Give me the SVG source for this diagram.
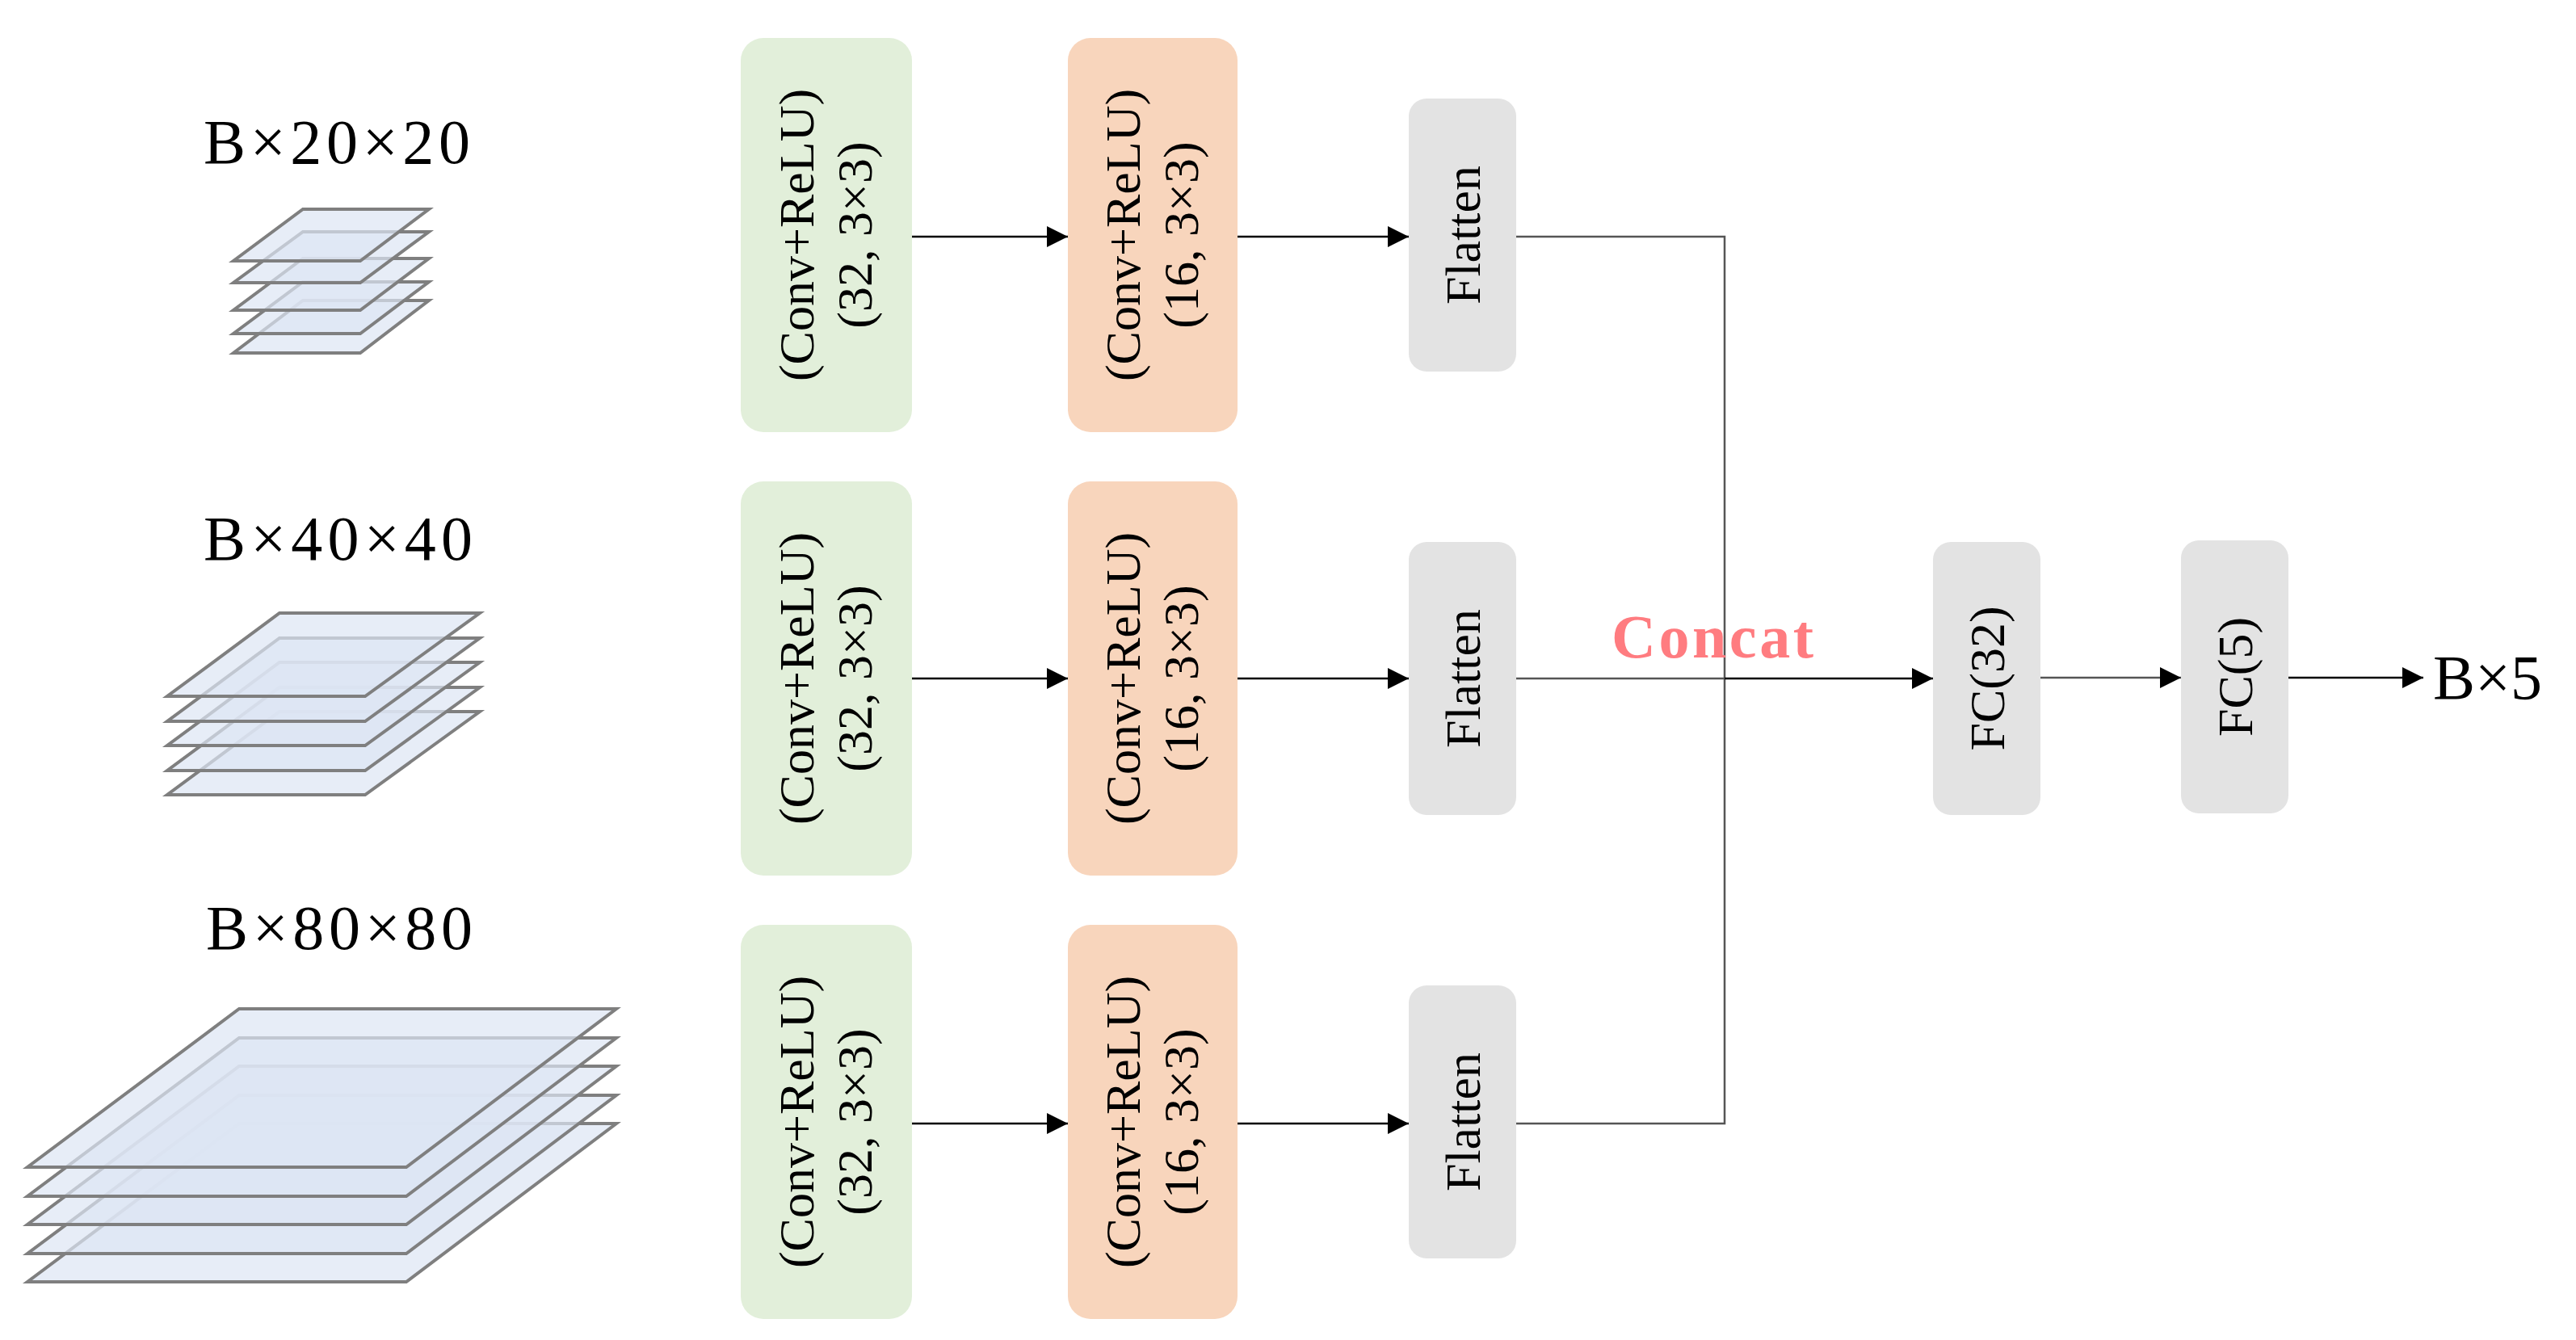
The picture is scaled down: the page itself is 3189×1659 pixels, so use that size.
<svg xmlns="http://www.w3.org/2000/svg" width="3189" height="1659" viewBox="0 0 3189 1659">
<style>
.t{font-family:"Liberation Serif","Times New Roman",serif;fill:#000}
.lbl{font-size:78px}
.bx{font-size:62px;text-anchor:middle}
.g{fill:#e2efda}.o{fill:#f8d5bc}.gr{fill:#e3e3e3}
.pl{fill:#dde5f3;fill-opacity:0.7;stroke:#7f7f7f;stroke-width:4;stroke-linejoin:miter}
.c{fill:none;stroke:#000;stroke-width:2.5}
.c2{fill:none;stroke:#555;stroke-width:2.5}
</style>
<defs>
<marker id="ah" viewBox="0 0 10 10" refX="10" refY="5" markerWidth="10" markerHeight="10" markerUnits="userSpaceOnUse" orient="auto"><path d="M0,0L10,5L0,10z" fill="#000"/></marker>
<marker id="ahb" viewBox="0 0 10 10" refX="10" refY="5" markerWidth="26" markerHeight="26" markerUnits="userSpaceOnUse" orient="auto"><path d="M0,0L10,5L0,10z" fill="#000"/></marker>
</defs>

<g id="input1">
<text class="t lbl" x="252" y="202" textLength="330">B×20×20</text>
<polygon class="pl" points="375,372 531,372 446,437 289,437"/>
<polygon class="pl" points="375,349 531,349 446,413 289,413"/>
<polygon class="pl" points="375,320 531,320 446,384 289,384"/>
<polygon class="pl" points="375,287 531,287 446,350 289,350"/>
<polygon class="pl" points="375,259 531,259 446,323 289,323"/>
</g>
<g id="input2">
<text class="t lbl" x="252" y="693" textLength="333">B×40×40</text>
<polygon class="pl" points="346,881 594,881 452,984 207,984"/>
<polygon class="pl" points="346,851 594,851 452,954 207,954"/>
<polygon class="pl" points="346,820 594,820 452,923 207,923"/>
<polygon class="pl" points="346,790 594,790 452,893 207,893"/>
<polygon class="pl" points="346,759 594,759 452,862 207,862"/>
</g>
<g id="input3">
<text class="t lbl" x="255" y="1175" textLength="330">B×80×80</text>
<polygon class="pl" points="296,1391 763,1391 503,1587 34,1587"/>
<polygon class="pl" points="296,1356 763,1356 503,1552 34,1552"/>
<polygon class="pl" points="296,1320 763,1320 503,1516 34,1516"/>
<polygon class="pl" points="296,1285 763,1285 503,1481 34,1481"/>
<polygon class="pl" points="296,1249 763,1249 503,1445 34,1445"/>
</g>

<g id="conv1a"><rect class="g" x="917" y="47" width="212" height="488" rx="28"/>
<text class="t bx" transform="translate(1023,291) rotate(-90)"><tspan x="0" y="-16">(Conv+ReLU)</tspan><tspan x="0" y="56">(32, 3×3)</tspan></text></g>
<g id="conv1b"><rect class="o" x="1322" y="47" width="210" height="488" rx="28"/>
<text class="t bx" transform="translate(1427,291) rotate(-90)"><tspan x="0" y="-16">(Conv+ReLU)</tspan><tspan x="0" y="56">(16, 3×3)</tspan></text></g>
<g id="flat1"><rect class="gr" x="1744" y="122" width="133" height="338" rx="22"/>
<text class="t bx" transform="translate(1810,291) rotate(-90)" y="22">Flatten</text></g>

<g id="conv2a"><rect class="g" x="917" y="596" width="212" height="488" rx="28"/>
<text class="t bx" transform="translate(1023,840) rotate(-90)"><tspan x="0" y="-16">(Conv+ReLU)</tspan><tspan x="0" y="56">(32, 3×3)</tspan></text></g>
<g id="conv2b"><rect class="o" x="1322" y="596" width="210" height="488" rx="28"/>
<text class="t bx" transform="translate(1427,840) rotate(-90)"><tspan x="0" y="-16">(Conv+ReLU)</tspan><tspan x="0" y="56">(16, 3×3)</tspan></text></g>
<g id="flat2"><rect class="gr" x="1744" y="671" width="133" height="338" rx="22"/>
<text class="t bx" transform="translate(1810,840) rotate(-90)" y="22">Flatten</text></g>

<g id="conv3a"><rect class="g" x="917" y="1145" width="212" height="488" rx="28"/>
<text class="t bx" transform="translate(1023,1389) rotate(-90)"><tspan x="0" y="-16">(Conv+ReLU)</tspan><tspan x="0" y="56">(32, 3×3)</tspan></text></g>
<g id="conv3b"><rect class="o" x="1322" y="1145" width="210" height="488" rx="28"/>
<text class="t bx" transform="translate(1427,1389) rotate(-90)"><tspan x="0" y="-16">(Conv+ReLU)</tspan><tspan x="0" y="56">(16, 3×3)</tspan></text></g>
<g id="flat3"><rect class="gr" x="1744" y="1220" width="133" height="338" rx="22"/>
<text class="t bx" transform="translate(1810,1389) rotate(-90)" y="22">Flatten</text></g>

<g id="fc32"><rect class="gr" x="2393" y="671" width="133" height="338" rx="22"/>
<text class="t bx" transform="translate(2459,840) rotate(-90)" y="22">FC(32)</text></g>
<g id="fc5"><rect class="gr" x="2700" y="669" width="133" height="338" rx="22"/>
<text class="t bx" transform="translate(2766,838) rotate(-90)" y="22">FC(5)</text></g>
<g id="output"><text class="t" x="3012" y="865" font-size="78">B×5</text></g>

<g id="connectors">
<line class="c" x1="1129" y1="293" x2="1322" y2="293" marker-end="url(#ahb)"/>
<line class="c" x1="1532" y1="293" x2="1744" y2="293" marker-end="url(#ahb)"/>
<line class="c" x1="1129" y1="840" x2="1322" y2="840" marker-end="url(#ahb)"/>
<line class="c" x1="1532" y1="840" x2="1744" y2="840" marker-end="url(#ahb)"/>
<line class="c" x1="1129" y1="1391" x2="1322" y2="1391" marker-end="url(#ahb)"/>
<line class="c" x1="1532" y1="1391" x2="1744" y2="1391" marker-end="url(#ahb)"/>
<polyline class="c2" points="1877,293 2135,293 2135,1391 1877,1391"/>
<line class="c2" x1="1877" y1="840" x2="2135" y2="840"/>
<line class="c" x1="2135" y1="840" x2="2393" y2="840" stroke-width="4" marker-end="url(#ahb)"/>
<line class="c2" x1="2526" y1="839" x2="2700" y2="839" marker-end="url(#ahb)"/>
<line class="c" x1="2833" y1="839" x2="3000" y2="839" marker-end="url(#ahb)"/>
<text x="1995" y="814" font-family="Liberation Serif,serif" font-weight="bold" font-size="76" fill="#ff7c80" textLength="250">Concat</text>
</g>
</svg>
